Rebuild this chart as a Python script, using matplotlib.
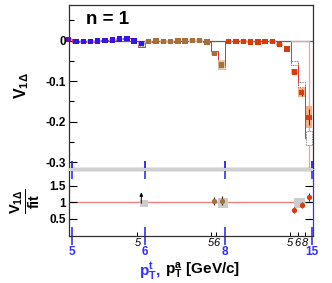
import numpy as np
import matplotlib
matplotlib.use("Agg")
import matplotlib.pyplot as plt
from matplotlib.patches import Rectangle

# ---------------- data ----------------
trig_labels = ["5", "6", "8", "15"]
trig_tick_pos = [0.47, 10.45, 21.5, 33.45]
assoc_labels = ["5", "5", "6", "5", "6", "8"]
assoc_tick_pos = [9.45, 19.5, 20.3, 30.45, 31.5, 32.45]

v1_blue = [0.003, -0.002, -0.002, -0.002, -0.001, 0.001, 0.002, 0.004, 0.006, -0.001, -0.007]
v1_brown = [-0.002, -0.001, -0.002, -0.002, -0.001, -0.001, 0.000, 0.000, -0.003, -0.031, -0.060]
v1_red = [-0.002, -0.002, -0.002, -0.003, -0.003, -0.002, -0.002, -0.009, -0.020, -0.077, -0.128, -0.189]

err_blue = [0.001] * 11
err_brown = [0.001] * 10 + [0.006]
err_red = [0.001] * 9 + [0.005, 0.008, 0.02]

sys_blue = [0.003] * 11
sys_brown = [0.003] * 9 + [0.004, 0.013]
sys_red = [0.003] * 9 + [0.006, 0.011, 0.027]

fit_blue = [0.003, -0.002, -0.002, -0.002, -0.001, 0.001, 0.002, 0.004, 0.006, -0.001, -0.015]
fit_brown = [-0.002, -0.001, -0.002, -0.002, -0.001, -0.001, 0.000, 0.000, -0.003, -0.025, -0.062]
fit_red = [0.0] * 9 + [-0.055, -0.110, -0.240]

fitbox_idx = [10, 21, 31, 32, 33]
fitbox_val = [-0.009, -0.066, -0.055, -0.109, -0.240]
fitbox_half = [0.004, 0.005, 0.0045, 0.0065, 0.018]

ratio_idx = [20, 21, 31, 32, 33]
ratio_val = [1.03, 1.05, 0.77, 0.92, 1.17]
ratio_err = [0.12, 0.13, 0.10, 0.10, 0.12]
ratio_col = ["brown", "brown", "red", "red", "red"]

ratio_box_x0 = [9.85, 20.55, 31.0]
ratio_box_x1 = [10.84, 21.92, 32.5]
ratio_box_y0 = [0.865, 0.83, 0.83]
ratio_box_y1 = [1.07, 1.14, 1.12]

arrow_idx = 9.98
arrow_from, arrow_to = 0.97, 1.30

# ---------------- style ----------------
W, H = 332, 283
BLUE = "#3414e6"
PURPLE = "#6010b4"
BROWN = "#a5703c"
RED = "#d83c0a"
col_map = {"blue": BLUE, "brown": BROWN, "red": RED}
light = {"blue": "#b4acf2", "brown": "#e2c39e", "red": "#f4a272"}
TBLUE = "#3030ff"
FONT = "Liberation Sans"
plt.rcParams["font.family"] = [FONT, "DejaVu Sans"]
plt.rcParams["mathtext.fontset"] = "custom"
plt.rcParams["mathtext.rm"] = FONT
plt.rcParams["mathtext.bf"] = FONT + ":bold"
plt.rcParams["mathtext.it"] = FONT + ":italic"

fig = plt.figure(figsize=(W / 100, H / 100), dpi=100)

def fx(px):
    return px / W

def fy(py):
    return 1 - py / H

L, R = 68.5, 312.5
ax = fig.add_axes([fx(L), fy(167.5), fx(R) - fx(L), fy(4.7) - fy(167.5)])
axr = fig.add_axes([fx(L), fy(236.3), fx(R) - fx(L), fy(170.5) - fy(236.3)])

# gray gap band between the panels
fig.patches.append(Rectangle((fx(L), fy(170.5)), fx(R) - fx(L), fy(167.5) - fy(170.5),
                             transform=fig.transFigure, facecolor="#d0d0d0",
                             edgecolor="none", zorder=0))

XL = (-0.02, 33.5)

# ---------------- top panel ----------------
groups = [("blue", v1_blue, err_blue, sys_blue, fit_blue, 0),
          ("brown", v1_brown, err_brown, sys_brown, fit_brown, 11),
          ("red", v1_red, err_red, sys_red, fit_red, 22)]

ax.axhline(0, color="#606060", lw=0.9, zorder=1)

all_fit = []
all_x = []
for name, vals, errs, syss, fits, off in groups:
    xs = np.arange(off, off + len(vals))
    all_x.extend(xs)
    all_fit.extend(fits)

all_x = np.array(all_x)
all_fit = np.array(all_fit)
ax.step(all_x, all_fit, where="mid", color="#e03030", lw=0.7, zorder=2)
# pink line at the last bin
ax.plot([30.5, 33.08, 33.08], [0, 0, -0.33], color="#f5a0a0", lw=0.9, zorder=2)

for i, v, h in zip(fitbox_idx, fitbox_val, fitbox_half):
    ax.add_patch(Rectangle((i - 0.45, v - h), 0.9, 2 * h, facecolor="white",
                           edgecolor="#404040", ls=(0, (1.2, 1.2)), lw=0.5, zorder=3))

for name, vals, errs, syss, fits, off in groups:
    xs = np.arange(off, off + len(vals))
    for x, v, s in zip(xs, vals, syss):
        ax.add_patch(Rectangle((x - 0.45, v - s), 0.9, 2 * s, facecolor=light[name],
                               edgecolor="none", alpha=0.85, zorder=4))
    ax.errorbar(xs, vals, yerr=errs, fmt="none", ecolor="#602010", elinewidth=0.7, zorder=5)
    cols = [col_map[name]] * len(vals)
    if name == "blue":
        cols[0] = PURPLE
    ax.scatter(xs, vals, marker="s", s=15, c=cols, edgecolors="none", zorder=6, clip_on=False)

ax.set_xlim(*XL)
ax.set_ylim(-0.313, 0.0889)
ax.set_yticks([-0.3, -0.2, -0.1, 0])
ax.set_yticklabels(["-0.3", "-0.2", "-0.1", "0"])
ax.set_yticks([-0.25, -0.15, -0.05, 0.05], minor=True)
ax.tick_params(axis="y", which="major", direction="in", length=6, width=0.8, pad=2,
               labelsize=8.5, right=False)
ax.tick_params(axis="y", which="minor", direction="in", length=3.5, width=0.8, right=False)
for lab in ax.get_yticklabels():
    lab.set_fontweight("bold")
ax.set_xticks(trig_tick_pos)
ax.set_xticklabels([])
ax.tick_params(axis="x", which="major", direction="in", length=5, width=1.2,
               color=TBLUE, top=False)
for sp in ax.spines.values():
    sp.set_color("#303030")
    sp.set_linewidth(0.9)

ax.text(0.07, 0.91, "n = 1", transform=ax.transAxes, fontsize=13.5, fontweight="bold",
        ha="left", va="center")

# ---------------- bottom panel ----------------
axr.axhline(1.0, color="#f08080", lw=1.0, zorder=1)
for x0, x1, y0, y1 in zip(ratio_box_x0, ratio_box_x1, ratio_box_y0, ratio_box_y1):
    axr.add_patch(Rectangle((x0, y0), x1 - x0, y1 - y0, facecolor="#cccccc",
                            edgecolor="none", zorder=2))
for i, v, e, c in zip(ratio_idx, ratio_val, ratio_err, ratio_col):
    axr.errorbar([i], [v], yerr=[e], fmt="o", ms=3.8, color=col_map[c], mec="none",
                 ecolor="#3a1a0a", elinewidth=0.8, zorder=4)
axr.annotate("", xy=(arrow_idx, arrow_to), xytext=(arrow_idx, arrow_from),
             arrowprops=dict(arrowstyle="-|>", color="black", lw=0.7,
                             mutation_scale=5, shrinkA=0, shrinkB=0), zorder=5)

axr.set_xlim(*XL)
axr.set_ylim(-0.04, 1.97)
axr.set_yticks([0.5, 1.0, 1.5])
axr.set_yticklabels(["0.5", "1", "1.5"])
axr.tick_params(axis="y", direction="in", length=5.5, width=0.8, pad=2, labelsize=8.5,
                right=True)
for lab in axr.get_yticklabels():
    lab.set_fontweight("bold")

axr.set_xticks(trig_tick_pos)
axr.set_xticklabels(trig_labels)
axr.tick_params(axis="x", which="major", direction="inout", length=13.5, width=1.2,
                color=TBLUE, labelcolor=TBLUE, labelsize=8.5, pad=0.5, top=True)
for lab in axr.get_xticklabels():
    lab.set_fontweight("bold")
axr.set_xticks(assoc_tick_pos, minor=True)
axr.set_xticklabels(assoc_labels, minor=True)
axr.tick_params(axis="x", which="minor", direction="in", length=3, width=0.7,
                color="black", labelsize=8, pad=1.5, top=False)
for lab in axr.get_xticklabels(minor=True):
    lab.set_fontstyle("italic")
for sp in axr.spines.values():
    sp.set_color("#303030")
    sp.set_linewidth(0.9)
axr.spines["right"].set_color(TBLUE)

# ---------------- labels ----------------
fig.text(fx(22), fy(86), r"$\mathbf{V}_{\mathbf{1\Delta}}$", rotation=90, fontsize=11.5,
         ha="center", va="center")
fig.text(fx(25), fy(201), r"$\frac{\mathbf{V}_{\mathbf{1\Delta}}}{\mathbf{fit}}$",
         rotation=90, fontsize=15, ha="center", va="center")
fig.text(fx(161), fy(271), r"$\mathbf{p}_\mathbf{T}^\mathbf{t}$,", color=TBLUE,
         fontsize=11, ha="right", va="center", fontweight="bold")
fig.text(fx(165), fy(271), r"$\mathbf{p}_\mathbf{T}^\mathbf{a}$ [GeV/c]", color="black",
         fontsize=11, ha="left", va="center", fontweight="bold")

fig.savefig("out.png", dpi=100)
